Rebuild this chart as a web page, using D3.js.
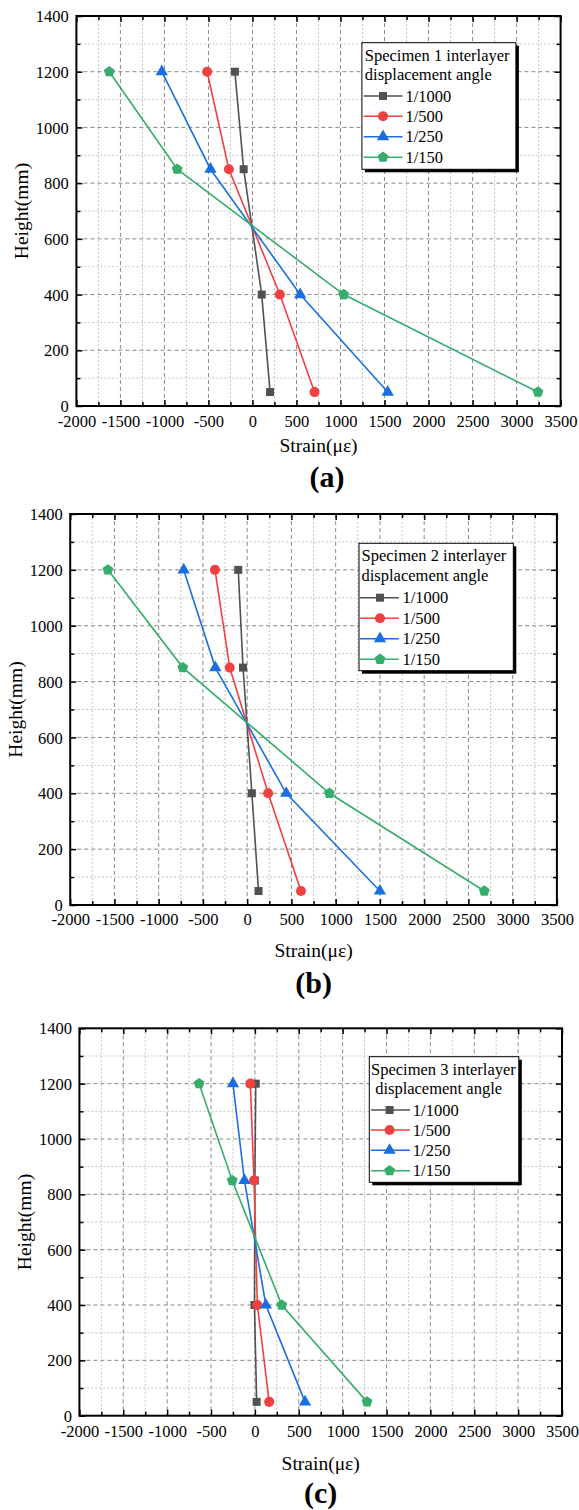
<!DOCTYPE html>
<html><head><meta charset="utf-8">
<script src="https://cdn.jsdelivr.net/npm/d3@7"></script>
<style>body{margin:0;background:#fff}svg{display:block}text{font-family:"Liberation Serif","Times New Roman",serif}</style>
</head><body>
<svg id="chart" width="579" height="1510"></svg>
<script>
// ---- data ----
const heights = [1200, 850, 400, 50];
const seriesLabels = ["1/1000", "1/500", "1/250", "1/150"];
const xTicks = [-2000, -1500, -1000, -500, 0, 500, 1000, 1500, 2000, 2500, 3000, 3500];
const xMinorTicks = [-1750, -1250, -750, -250, 250, 750, 1250, 1750, 2250, 2750, 3250];
const yTicks = [0, 200, 400, 600, 800, 1000, 1200, 1400];
const yMinorTicks = [100, 300, 500, 700, 900, 1100, 1300];
const panelTags = ["(a)", "(b)", "(c)"];
const legendTitles1 = ["Specimen 1 interlayer", "Specimen 2 interlayer", "Specimen 3 interlayer"];
const legendTitles2 = ["displacement angle", "displacement angle", " displacement angle"];

const spec1_1000 = [-200, -100, 105, 200];
const spec1_500 = [-515, -268, 311, 705];
const spec1_250 = [-1030, -477, 542, 1536];
const spec1_150 = [-1626, -855, 1037, 3243];

const spec2_1000 = [-101, -47, 53, 128];
const spec2_500 = [-364, -197, 237, 608];
const spec2_250 = [-718, -360, 441, 1500];
const spec2_150 = [-1574, -727, 929, 2680];

const spec3_1000 = [10, 0, -5, 20];
const spec3_500 = [-52, -10, 28, 163];
const spec3_250 = [-250, -119, 125, 571];
const spec3_150 = [-636, -258, 306, 1278];

const panelData = [
  [spec1_1000, spec1_500, spec1_250, spec1_150],
  [spec2_1000, spec2_500, spec2_250, spec2_150],
  [spec3_1000, spec3_500, spec3_250, spec3_150]
];

// ---- styles / layout ----
const colors = ["#515151", "#F14040", "#1A6FDF", "#37AD6B"];
const pentagon = {
  draw(ctx, size) {
    const r = Math.sqrt(size / 2.3776);
    for (let i = 0; i < 5; i++) {
      const a = -Math.PI / 2 + i * 2 * Math.PI / 5;
      const x = r * Math.cos(a), y = r * Math.sin(a);
      if (i === 0) ctx.moveTo(x, y); else ctx.lineTo(x, y);
    }
    ctx.closePath();
  }
};
const symbols = [
  d3.symbol().type(d3.symbolSquare).size(64),
  d3.symbol().type(d3.symbolCircle).size(80),
  d3.symbol().type(d3.symbolTriangle).size(66),
  d3.symbol().type(pentagon).size(78)
];

const layouts = [
  {L: 76.4, R: 560.6, T: 16, B: 406, yLabR: 68.7, xTickBase: 426.7, xTitleBase: 452.3, tagBase: 487.3, tagX: 327, yTitleX: 27.7,
   lg: {x: 361.9, y: 42.7, w: 154, h: 126.6, t1x: 364.8, t1y: 60.7, t2x: 364.8, t2y: 80.3, lx1: 363.7, lx2: 402.5, sx: 383, tx: 405.5, rows: [96, 116.3, 136.7, 157.2]}},
  {L: 70.2, R: 556.9, T: 514, B: 905, yLabR: 62.8, xTickBase: 925, xTitleBase: 957.3, tagBase: 993, tagX: null, yTitleX: 21.5,
   lg: {x: 359, y: 543.3, w: 154.3, h: 127.4, t1x: 361.5, t1y: 561, t2x: 361.5, t2y: 581, lx1: 360, lx2: 398.8, sx: 380, tx: 402.5, rows: [597.7, 618.3, 638.7, 659.3]}},
  {L: 79.4, R: 562, T: 1028.3, B: 1415.7, yLabR: 72, xTickBase: 1436.7, xTitleBase: 1470, tagBase: 1503, tagX: null, yTitleX: 31,
   lg: {x: 369.3, y: 1056.7, w: 149.5, h: 125.6, t1x: 371, t1y: 1075, t2x: 371, t2y: 1094.3, lx1: 371, lx2: 410, sx: 389.6, tx: 412.8, rows: [1110, 1130, 1150.3, 1170.7]}}
];

const svg = d3.select("#chart");
const fmt = d => String(d);

layouts.forEach((P, pi) => {
  const x = d3.scaleLinear().domain([-2000, 3500]).range([P.L, P.R]);
  const y = d3.scaleLinear().domain([0, 1400]).range([P.B, P.T]);
  const g = svg.append("g");

  // minor grid
  g.selectAll(null).data(xMinorTicks).join("line")
    .attr("x1", d => x(d)).attr("x2", d => x(d)).attr("y1", P.T).attr("y2", P.B)
    .attr("stroke", "#c4c4c4").attr("stroke-width", 1).attr("stroke-dasharray", "2,2");
  g.selectAll(null).data(yMinorTicks).join("line")
    .attr("y1", d => y(d)).attr("y2", d => y(d)).attr("x1", P.L).attr("x2", P.R)
    .attr("stroke", "#c4c4c4").attr("stroke-width", 1).attr("stroke-dasharray", "2,2");
  // major grid
  g.selectAll(null).data(xTicks.slice(1, -1)).join("line")
    .attr("x1", d => x(d)).attr("x2", d => x(d)).attr("y1", P.T).attr("y2", P.B)
    .attr("stroke", "#8a8a8a").attr("stroke-width", 1).attr("stroke-dasharray", "4,3");
  g.selectAll(null).data(yTicks.slice(1, -1)).join("line")
    .attr("y1", d => y(d)).attr("y2", d => y(d)).attr("x1", P.L).attr("x2", P.R)
    .attr("stroke", "#8a8a8a").attr("stroke-width", 1).attr("stroke-dasharray", "4,3");

  // axes with inward ticks
  const axB = d3.axisBottom(x).tickValues(xTicks).tickSize(-6).tickFormat(fmt);
  const axBm = d3.axisBottom(x).tickValues(xMinorTicks).tickSize(-4).tickFormat("");
  const axT = d3.axisTop(x).tickValues(xTicks).tickSize(-6).tickFormat("");
  const axTm = d3.axisTop(x).tickValues(xMinorTicks).tickSize(-4).tickFormat("");
  const axL = d3.axisLeft(y).tickValues(yTicks).tickSize(-6).tickFormat(fmt);
  const axLm = d3.axisLeft(y).tickValues(yMinorTicks).tickSize(-4).tickFormat("");
  const axR = d3.axisRight(y).tickValues(yTicks).tickSize(-6).tickFormat("");
  const axRm = d3.axisRight(y).tickValues(yMinorTicks).tickSize(-4).tickFormat("");

  const styleAxis = sel => {
    sel.attr("font-family", null).attr("font-size", null);
    sel.select(".domain").remove();
    sel.selectAll(".tick line").attr("stroke", "#000").attr("stroke-width", 1.5);
  };
  const gb = g.append("g").attr("transform", `translate(0,${P.B})`).call(axB).call(styleAxis);
  gb.selectAll(".tick text").attr("y", null).attr("dy", null)
    .attr("transform", `translate(0,${P.xTickBase - P.B})`)
    .attr("font-size", 16.5).attr("fill", "#000");
  g.append("g").attr("transform", `translate(0,${P.B})`).call(axBm).call(styleAxis);
  g.append("g").attr("transform", `translate(0,${P.T})`).call(axT).call(styleAxis);
  g.append("g").attr("transform", `translate(0,${P.T})`).call(axTm).call(styleAxis);
  const gl = g.append("g").attr("transform", `translate(${P.L},0)`).call(axL).call(styleAxis);
  gl.selectAll(".tick text").attr("x", P.yLabR - P.L).attr("dy", "0.34em")
    .attr("font-size", 16.5).attr("fill", "#000");
  g.append("g").attr("transform", `translate(${P.L},0)`).call(axLm).call(styleAxis);
  g.append("g").attr("transform", `translate(${P.R},0)`).call(axR).call(styleAxis);
  g.append("g").attr("transform", `translate(${P.R},0)`).call(axRm).call(styleAxis);

  // frame
  g.append("rect").attr("x", P.L).attr("y", P.T).attr("width", P.R - P.L).attr("height", P.B - P.T)
    .attr("fill", "none").attr("stroke", "#000").attr("stroke-width", 2);

  // series
  const line = d3.line().x(d => x(d[0])).y(d => y(d[1]));
  panelData[pi].forEach((vals, si) => {
    const pts = vals.map((v, i) => [v, heights[i]]);
    g.append("path").attr("d", line(pts)).attr("fill", "none")
      .attr("stroke", colors[si]).attr("stroke-width", 1.6);
    g.selectAll(null).data(pts).join("path")
      .attr("transform", d => `translate(${x(d[0])},${y(d[1])})`)
      .attr("d", symbols[si]()).attr("fill", colors[si]);
  });

  // legend
  const lg = P.lg;
  g.append("rect").attr("x", lg.x + 3).attr("y", lg.y + 3).attr("width", lg.w).attr("height", lg.h).attr("fill", "#000");
  g.append("rect").attr("x", lg.x).attr("y", lg.y).attr("width", lg.w).attr("height", lg.h)
    .attr("fill", "#fff").attr("stroke", "#000").attr("stroke-width", 1);
  g.append("text").attr("x", lg.t1x).attr("y", lg.t1y).attr("font-size", 16.5).text(legendTitles1[pi]);
  g.append("text").attr("x", lg.t2x).attr("y", lg.t2y).attr("font-size", 16.5).style("white-space", "pre").text(legendTitles2[pi]);
  seriesLabels.forEach((lab, si) => {
    const ry = lg.rows[si];
    g.append("line").attr("x1", lg.lx1).attr("x2", lg.lx2).attr("y1", ry).attr("y2", ry)
      .attr("stroke", colors[si]).attr("stroke-width", 1.6);
    g.append("path").attr("transform", `translate(${lg.sx},${ry})`).attr("d", symbols[si]()).attr("fill", colors[si]);
    g.append("text").attr("x", lg.tx).attr("y", ry + 5.5).attr("font-size", 16.5).text(lab);
  });

  // titles
  const cx = (P.L + P.R) / 2;
  g.append("text").attr("x", cx).attr("y", P.xTitleBase).attr("text-anchor", "middle").attr("font-size", 19.5).text("Strain(με)");
  g.append("text").attr("transform", `translate(${P.yTitleX},${(P.T + P.B) / 2}) rotate(-90)`)
    .attr("text-anchor", "middle").attr("font-size", 19.5).text("Height(mm)");
  g.append("text").attr("x", P.tagX ?? cx).attr("y", P.tagBase).attr("text-anchor", "middle")
    .attr("font-size", 30).attr("font-weight", "bold").text(panelTags[pi]);
});
</script>
</body></html>
